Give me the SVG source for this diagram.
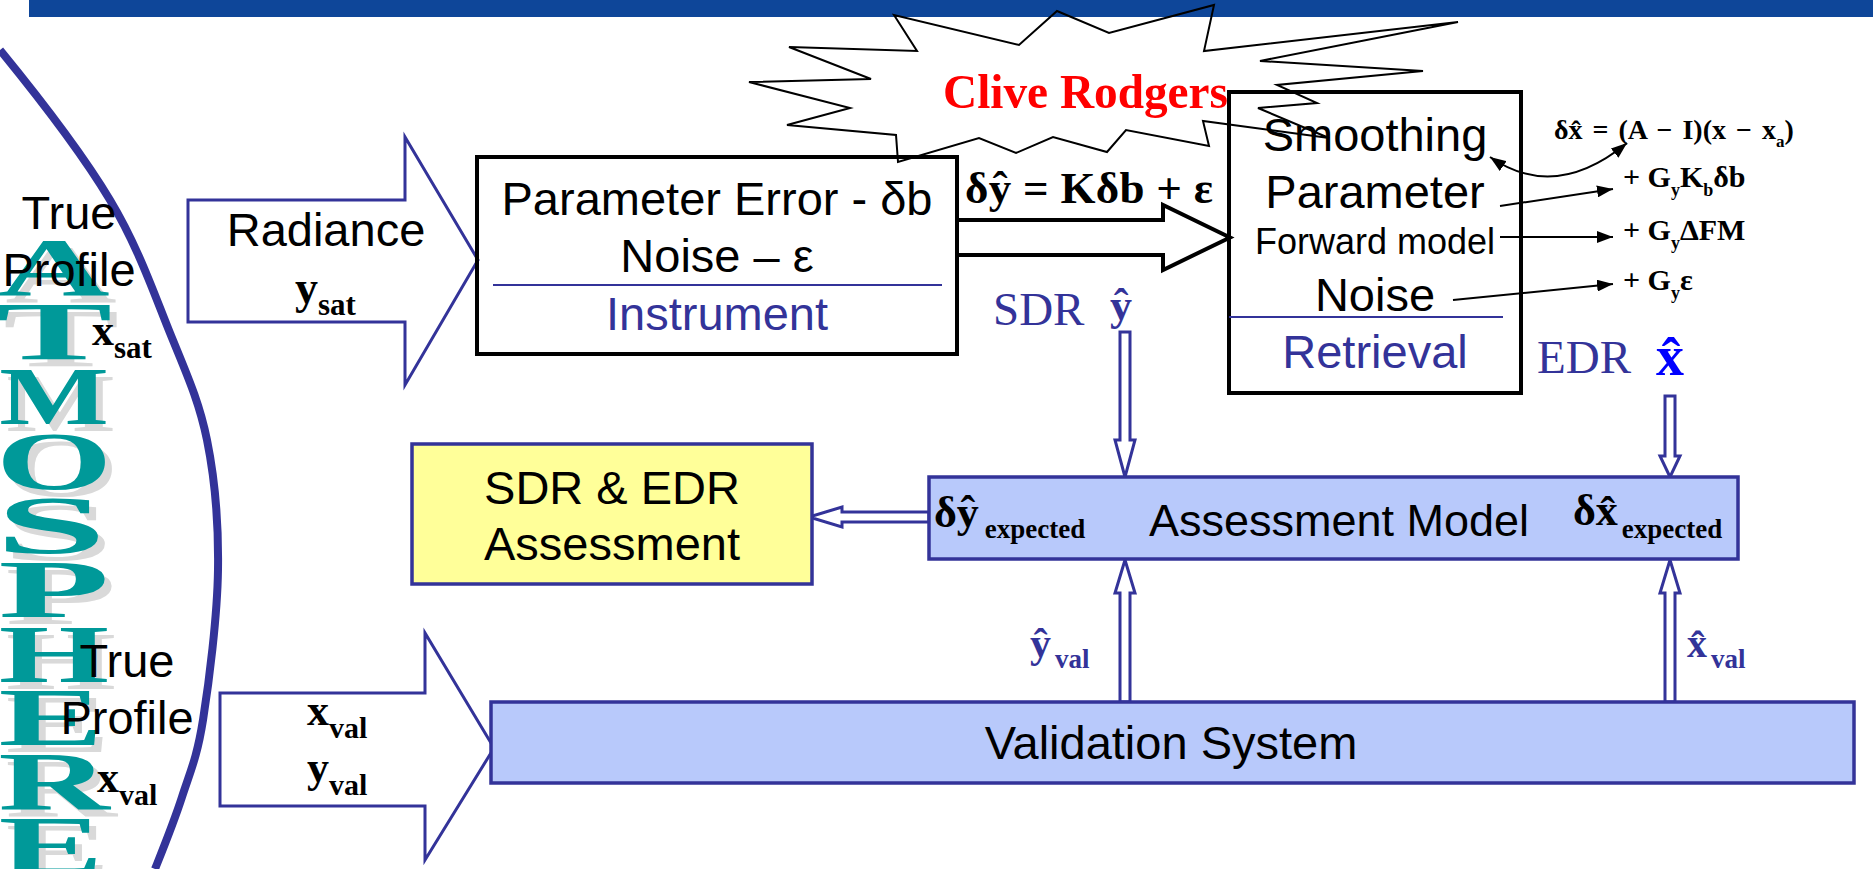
<svg xmlns="http://www.w3.org/2000/svg" width="1873" height="869" viewBox="0 0 1873 869">
<defs>
<style>
.sans{font-family:"Liberation Sans",Arial,sans-serif;}
.serif{font-family:"Liberation Serif","Times New Roman",serif;}
.b{font-weight:bold;}
.lbl{font-size:47px;fill:#000;}
.navy{fill:#333399;}
.hollow{fill:#fff;stroke:#333399;stroke-width:3;stroke-linejoin:miter;}
.box{fill:none;stroke:#000;stroke-width:4;}
.bluebox{fill:#b8c9fb;stroke:#333399;stroke-width:3.5;}
.rule{stroke:#333399;stroke-width:2;}
.ptr{fill:none;stroke:#000;stroke-width:2;}
</style>
<marker id="ah" viewBox="0 0 16 12" refX="16" refY="6" markerWidth="16" markerHeight="12" markerUnits="userSpaceOnUse" orient="auto-start-reverse">
<path d="M0,0 L16,6 L0,12 z" fill="#000"/>
</marker>
<!-- wide serif capitals, each stretched to the column width -->
<g id="letters" font-family="'Liberation Serif','Times New Roman',serif" font-weight="bold" font-size="83" text-anchor="middle">
<text transform="translate(54,295) scale(1.86,1)">A</text>
<text transform="translate(54,359) scale(2.1,1)">T</text>
<text transform="translate(54,424) scale(1.4,1)">M</text>
<text transform="translate(54,489) scale(1.8,1)">O</text>
<text transform="translate(51,553) scale(2.4,1)">S</text>
<text transform="translate(54,617) scale(2.2,1)">P</text>
<text transform="translate(54,682) scale(1.71,1)">H</text>
<text transform="translate(51,745) scale(1.9,1)">E</text>
<text transform="translate(54,809) scale(1.86,1)">R</text>
<text transform="translate(51,873) scale(1.9,1)">E</text>
</g>
</defs>
<rect width="1873" height="869" fill="#fff"/>
<rect x="29" y="0" width="1844" height="17" fill="#0e4699"/>

<!-- atmosphere column with a grey drop shadow, bounded by the arc -->
<g id="atmosphere">
<use href="#letters" fill="#d9d9d9" transform="translate(7,7)"/>
<use href="#letters" fill="#009999"/>
<path d="M0,50 C30,86.7 81.7,152.8 110,200 C138.3,247.2 153.8,293 170,333 C186.2,373 199,400.5 207,440 C215,479.5 218.7,523.3 218,570 C217.3,616.7 209,682.2 203,720 C197,757.8 190,772.2 182,797 C174,821.8 164.5,845.2 155,869" fill="none" stroke="#333399" stroke-width="8"/>
</g>

<g id="true-profile-sat">
<text class="sans lbl" x="69" y="229" text-anchor="middle">True</text>
<text class="sans lbl" x="69" y="286" text-anchor="middle">Profile</text>
<text class="serif b" x="92" y="345" font-size="44">x<tspan font-size="31" dy="13">sat</tspan></text>
</g>
<g id="true-profile-val">
<text class="sans lbl" x="127" y="677" text-anchor="middle">True</text>
<text class="sans lbl" x="127" y="734" text-anchor="middle">Profile</text>
<text class="serif b" x="97" y="792" font-size="44">x<tspan font-size="30" dy="13">val</tspan></text>
</g>

<!-- callout burst -->
<g id="callout">
<polygon points="894,15 917,51 789,47 871,79 749,82 850,108 787,125 896,135 898,162 979,138 1016,153 1053,137 1107,152 1126,130 1209,146 1203,121 1329,138 1258,108 1317,103 1277,85 1423,71 1260,61 1458,22 1204,51 1214,5 1109,33 1057,11 1019,45" fill="none" stroke="#000" stroke-width="2" stroke-linejoin="miter"/>
<text class="serif b" x="943" y="108" font-size="49" fill="#ff0000" textLength="285" lengthAdjust="spacingAndGlyphs">Clive Rodgers</text>
</g>

<!-- connectors -->
<g id="connectors">
<polygon id="radiance-arrow" class="hollow" points="188,200 405,200 405,137 478,260 405,385 405,322 188,322"/>
<polygon id="validation-arrow" class="hollow" points="220,693 425,693 425,633 494,748 425,860 425,806 220,806"/>
<polygon id="instrument-to-retrieval" points="957,220 1163,220 1163,205 1230,237.5 1163,270 1163,255 957,255" fill="#fff" stroke="#000" stroke-width="4"/>
<polygon class="hollow" points="1120,332 1130,332 1130,440 1135,440 1125,477 1115,440 1120,440"/>
<polygon class="hollow" points="1665,396 1675,396 1675,456 1680,456 1670,477 1660,456 1665,456"/>
<polygon class="hollow" points="1120,702 1130,702 1130,593 1135,593 1125,560 1115,593 1120,593"/>
<polygon class="hollow" points="1665,702 1675,702 1675,593 1680,593 1670,560 1660,593 1665,593"/>
<polygon class="hollow" points="929,512 842,512 842,507 809,517 842,527 842,522 929,522"/>
<path class="ptr" d="M1500,206 L1613,189" marker-end="url(#ah)"/>
<path class="ptr" d="M1500,237 L1613,237" marker-end="url(#ah)"/>
<path class="ptr" d="M1453,300 L1613,284" marker-end="url(#ah)"/>
<path class="ptr" d="M1490,157 Q1555,202 1627,143" marker-start="url(#ah)" marker-end="url(#ah)"/>
</g>

<g id="radiance">
<text class="sans lbl" x="326" y="246" text-anchor="middle">Radiance</text>
<text class="serif b" x="295" y="303" font-size="46">y<tspan font-size="31" dy="12">sat</tspan></text>
</g>

<g id="validation-inputs">
<text class="serif b" x="307" y="725" font-size="44">x<tspan font-size="30" dy="13">val</tspan></text>
<text class="serif b" x="307" y="782" font-size="44">y<tspan font-size="30" dy="13">val</tspan></text>
</g>

<g id="instrument">
<rect class="box" x="477" y="157" width="480" height="197"/>
<text class="sans lbl" x="717" y="215" text-anchor="middle">Parameter Error - δb</text>
<text class="sans lbl" x="717" y="272" text-anchor="middle">Noise – ε</text>
<line class="rule" x1="493" y1="285" x2="942" y2="285"/>
<text class="sans lbl navy" x="717" y="330" text-anchor="middle">Instrument</text>
</g>

<g id="sdr-equation">
<text class="serif b" x="965" y="203" font-size="45" textLength="248" lengthAdjust="spacing">δŷ = Kδb + ε</text>
<text class="serif navy" x="993" y="325" font-size="47">SDR</text>
<text class="serif b navy" x="1110" y="320" font-size="44">ŷ</text>
</g>

<g id="retrieval">
<rect class="box" x="1229" y="92" width="292" height="301"/>
<text class="sans lbl" x="1375" y="151" text-anchor="middle">Smoothing</text>
<text class="sans lbl" x="1375" y="208" text-anchor="middle">Parameter</text>
<text class="sans" x="1375" y="254" font-size="36" text-anchor="middle">Forward model</text>
<text class="sans lbl" x="1375" y="311" text-anchor="middle">Noise</text>
<line class="rule" x1="1229" y1="317" x2="1503" y2="317"/>
<text class="sans lbl navy" x="1375" y="368" text-anchor="middle">Retrieval</text>
</g>

<g id="edr-terms">
<text class="serif b" x="1554" y="139" font-size="28" word-spacing="3">δx̂ = (A − I)(x − x<tspan font-size="17" dy="8">a</tspan><tspan dy="-8">)</tspan></text>
<text class="serif b" x="1623" y="187" font-size="30">+ G<tspan font-size="18" dy="9">y</tspan><tspan dy="-9">K</tspan><tspan font-size="18" dy="9">b</tspan><tspan dy="-9">δb</tspan></text>
<text class="serif b" x="1623" y="240" font-size="30">+ G<tspan font-size="18" dy="9">y</tspan><tspan dy="-9">ΔFM</tspan></text>
<text class="serif b" x="1623" y="290" font-size="30">+ G<tspan font-size="18" dy="9">y</tspan><tspan dy="-9">ε</tspan></text>
<text class="serif navy" x="1537" y="373" font-size="47">EDR</text>
<text class="serif b" x="1656" y="375" font-size="56" fill="#0000ff">x̂</text>
</g>

<g id="sdr-edr-assessment">
<rect x="412" y="444" width="400" height="140" fill="#ffff99" stroke="#333399" stroke-width="3.5"/>
<text class="sans lbl" x="612" y="504" text-anchor="middle">SDR &amp; EDR</text>
<text class="sans lbl" x="612" y="560" text-anchor="middle">Assessment</text>
</g>

<g id="assessment-model">
<rect class="bluebox" x="929" y="477" width="809" height="82"/>
<text class="sans" x="1339" y="536" font-size="45" text-anchor="middle">Assessment Model</text>
<text class="serif b" x="934" y="527" font-size="44">δŷ<tspan font-size="27" dx="6" dy="11">expected</tspan></text>
<text class="serif b" x="1573" y="525" font-size="44">δx̂<tspan font-size="27" dx="4" dy="13">expected</tspan></text>
</g>

<g id="validation-labels">
<text class="serif b navy" x="1030" y="657" font-size="42">ŷ<tspan font-size="27" dx="4" dy="11">val</tspan></text>
<text class="serif b navy" x="1687" y="657" font-size="40">x̂<tspan font-size="27" dx="4" dy="11">val</tspan></text>
</g>

<g id="validation-system">
<rect class="bluebox" x="491" y="702" width="1363" height="81"/>
<text class="sans lbl" x="1171" y="759" text-anchor="middle">Validation System</text>
</g>
</svg>
